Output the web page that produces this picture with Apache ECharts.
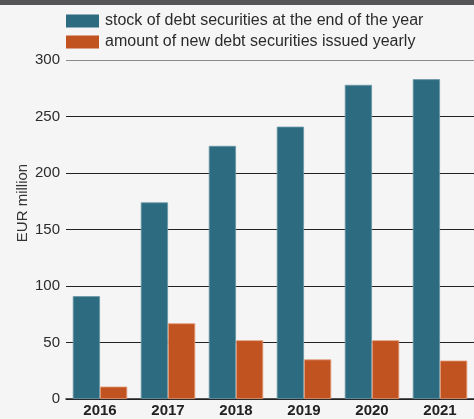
<!DOCTYPE html>
<html>
<head>
<meta charset="utf-8">
<script src="https://cdn.jsdelivr.net/npm/echarts@6/dist/echarts.min.js"></script>
<style>
  html, body { margin: 0; padding: 0; background: #f4f5f4; }
  #topbar { position: absolute; left: 0; top: 0; width: 474px; height: 5px; background: #555557; }
  #chart { width: 474px; height: 419px; }
</style>
</head>
<body>
<div id="chart"></div>
<div id="topbar"></div>
<script>
// Debt securities, EUR million
const years = ['2016', '2017', '2018', '2019', '2020', '2021'];
const stockEndOfYear = [91, 174, 224, 241, 278, 283];
const newIssuedYearly = [11, 67, 52, 35, 52, 34];
const seriesNames = [
  'stock of debt securities at the end of the year',
  'amount of new debt securities issued yearly'
];
const yAxisTitle = 'EUR million';

const chart = echarts.init(document.getElementById('chart'), null, { renderer: 'canvas' });
const font = 'Liberation Sans, Arial, Helvetica, sans-serif';

chart.setOption({
  backgroundColor: '#f4f5f4',
  animation: false,
  textStyle: { fontFamily: font },
  legend: {
    orient: 'vertical',
    left: 66,
    top: 13,
    padding: 0,
    itemWidth: 33,
    itemHeight: 13,
    itemGap: 5,
    icon: 'rect',
    itemStyle: { borderWidth: 0 },
    textStyle: { fontSize: 16, color: '#2b2b2b', fontFamily: font, padding: [0, 0, 0, 1] },
    data: seriesNames
  },
  // vertical axis title, placed beside the tick labels
  graphic: [{
    type: 'text',
    x: 23,
    y: 203,
    rotation: Math.PI / 2,
    style: {
      text: yAxisTitle,
      fontSize: 15,
      fontFamily: font,
      fill: '#333',
      align: 'center',
      verticalAlign: 'middle'
    }
  }],
  grid: { left: 66, top: 60, width: 411, bottom: 20, containLabel: false },
  xAxis: {
    type: 'category',
    data: years,
    axisLine: { lineStyle: { color: '#222', width: 1.5 } },
    axisTick: { inside: true, length: 6, lineStyle: { color: '#222' } },
    axisLabel: { fontSize: 15, fontWeight: 'bold', color: '#222', margin: 4, fontFamily: font }
  },
  yAxis: {
    type: 'value',
    min: 0,
    max: 300,
    interval: 50,
    axisLine: { show: false },
    axisTick: { show: false },
    axisLabel: { fontSize: 15, color: '#2b2b2b', margin: 6, fontFamily: font },
    splitLine: {
      lineStyle: {
        color: ['#222', '#222', '#222', '#222', '#222', '#222', '#8a8a8a'],
        width: 1.2
      }
    }
  },
  series: [
    {
      name: seriesNames[0],
      type: 'bar',
      data: stockEndOfYear,
      barGap: '0%',
      barCategoryGap: '20%',
      itemStyle: { color: '#2d6b80', borderColor: '#6a98a8', borderWidth: 0.8 }
    },
    {
      name: seriesNames[1],
      type: 'bar',
      data: newIssuedYearly,
      itemStyle: { color: '#c0531f', borderColor: '#e39a78', borderWidth: 0.8 }
    }
  ]
});
</script>
</body>
</html>
